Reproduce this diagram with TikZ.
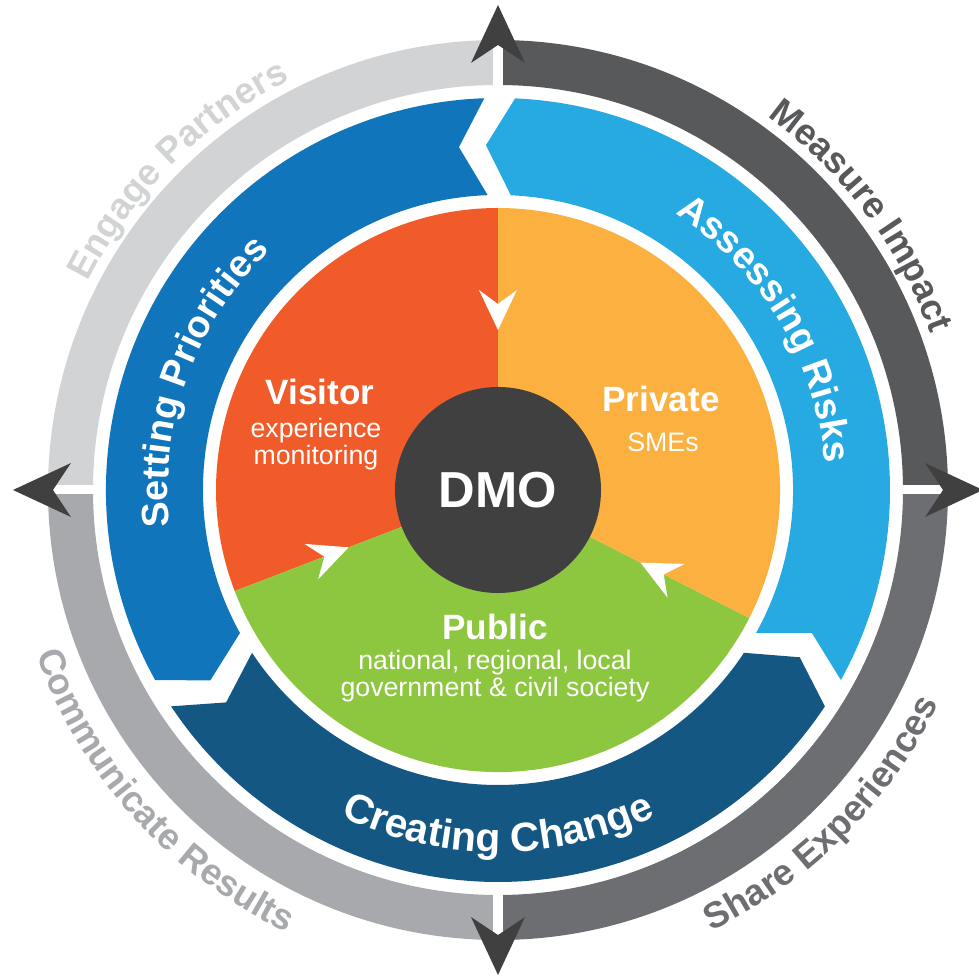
\documentclass[tikz,border=0pt]{standalone}
\usepackage{fontspec}
\setmainfont{Liberation Sans}
\usetikzlibrary{decorations.text}

\definecolor{visitor}{HTML}{F15A29}
\definecolor{private}{HTML}{FBB040}
\definecolor{public}{HTML}{8DC63F}
\definecolor{dmo}{HTML}{404041}
\definecolor{setting}{HTML}{1075BB}
\definecolor{assessing}{HTML}{27AAE1}
\definecolor{creating}{HTML}{145783}
\definecolor{engage}{HTML}{D1D3D4}
\definecolor{measure}{HTML}{58595B}
\definecolor{share}{HTML}{6D6E71}
\definecolor{communicate}{HTML}{A7A9AC}

\newcommand{\ringfont}{\fontsize{27}{27}\selectfont\bfseries}
\newcommand{\outerfont}{\fontsize{26}{26}\selectfont\bfseries}

\begin{document}
\begin{tikzpicture}[x=0.025cm, y=0.025cm,
    pietitle/.style={text=white, font=\fontsize{25}{25}\selectfont\bfseries, anchor=base, inner sep=0pt},
    piesub/.style={text=white, font=\fontsize{19}{19}\selectfont, anchor=base, inner sep=0pt}]
\clip (-498,-487) rectangle (481,490);

% outer ring
\foreach \c/\a in {measure/0, engage/90, communicate/180, share/270}
    \fill[\c] (\a:405) arc[start angle=\a, end angle=\a+90, radius=405]
        -- ({\a+90}:450) arc[start angle=\a+90, end angle=\a, radius=450] -- cycle;
\foreach \a in {0,90,180,270} {
    \draw[white, line width=0.225cm] (\a:398) -- (\a:452);
    \fill[dmo, rotate=\a] (485,0) -- (427,27) -- (445,0) -- (427,-27) -- cycle;
}

\path[decorate, decoration={text along path, text align=center,
    text={|\outerfont\color{engage}|Engage Partners}}]
    (175:460) arc[start angle=175, end angle=95, radius=460];
\path[decorate, decoration={text along path, text align=center,
    text={|\outerfont\color{measure}|Measure Impact}}]
    (77:460) arc[start angle=77, end angle=-3, radius=460];
\path[decorate, decoration={text along path, text align=center,
    text={|\outerfont\color{communicate}|Communicate Results}}]
    (182:490) arc[start angle=182, end angle=262, radius=490];
\path[decorate, decoration={text along path, text align=center,
    text={|\outerfont\color{share}|Share Experiences}}]
    (275:490) arc[start angle=275, end angle=355, radius=490];

% blue chevron ring
\foreach \c/\s/\e in {assessing/-29/87.5, setting/92/209, creating/213.5/326.5}
    \fill[\c] (\s:295) arc[start angle=\s, end angle=\e, radius=295]
        -- ({\e+4.5}:345) -- (\e:392)
        arc[start angle=\e, end angle=\s, radius=392]
        -- ({\s+4.5}:345) -- cycle;

\path[decorate, decoration={text along path, text align=center,
    text={|\ringfont\color{white}|Setting Priorities}}]
    (200:330) arc[start angle=200, end angle=120, radius=330];
\path[decorate, decoration={text along path, text align=center,
    text={|\ringfont\color{white}|Assessing Risks}}]
    (71:328) arc[start angle=71, end angle=-9, radius=328];
\path[decorate, decoration={text along path, text align=center,
    text={|\fontsize{29}{29}\selectfont\bfseries\color{white}|Creating Change}}]
    (230:362) arc[start angle=230, end angle=310, radius=362];

% pie
\fill[visitor] (0,0) -- (90:282) arc[start angle=90, end angle=201, radius=282] -- cycle;
\fill[public] (0,0) -- (201:282) arc[start angle=201, end angle=333, radius=282] -- cycle;
\fill[private] (0,0) -- (333:282) arc[start angle=333, end angle=450, radius=282] -- cycle;
\foreach \a in {90,201,333}
    \fill[white, rotate=\a] (160,0) -- (200,19) -- (186,0) -- (200,-19) -- cycle;

\node[circle, fill=dmo, minimum size=5.15cm, inner sep=0pt, text=white,
    font=\fontsize{36}{36}\selectfont\bfseries] (dmo) at (0,0) {DMO};

\node[pietitle] (visitor) at (-178,85) {Visitor};
\node[piesub] (visitor2) at (-182,52) {experience};
\node[piesub] (visitor3) at (-182,25) {monitoring};

\node[pietitle] (private) at (163,78) {Private};
\node[piesub] (private2) at (165,38) {SMEs};

\node[pietitle] (public) at (-3,-150) {Public};
\node[piesub] (public2) at (-3,-180) {national, regional, local};
\node[piesub] (public3) at (-3,-207) {government \& civil society};
\end{tikzpicture}
\end{document}
